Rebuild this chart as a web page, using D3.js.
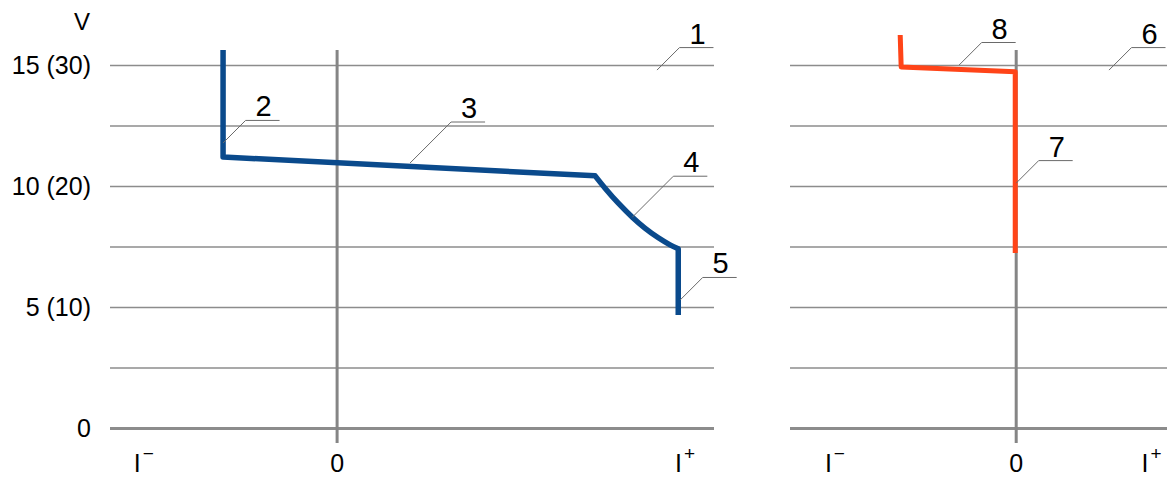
<!DOCTYPE html>
<html>
<head>
<meta charset="utf-8">
<script src="https://cdn.jsdelivr.net/npm/d3@7"></script>
<style>
  html, body { margin: 0; padding: 0; background: #fff; }
  svg { display: block; font-family: "Liberation Sans", Arial, sans-serif; }
</style>
</head>
<body>
<svg id="chart" width="1168" height="477"></svg>
<script>
// ---- data ----
const gridValues = [0, 2.5, 5, 7.5, 10, 12.5, 15];
const yTickValues = [0, 5, 10, 15];
const yTickLabels = ["0", "5 (10)", "10 (20)", "15 (30)"];
const yAxisTitle = "V";

// current-axis labels (value positions in arbitrary current units)
const leftXTickValues = [-4.0, 0, 7.2];
const leftXTickLabels = [["I", "\u2212"], ["0", ""], ["I", "+"]];
const rightXTickValues = [-3.75, 0, 2.8];
const rightXTickLabels = [["I", "\u2212"], ["0", ""], ["I", "+"]];

// curve in left panel (current, voltage); points 2..9 form the smooth bend (segment 4)
const curveLeftI = [-2.36, -2.36, 5.34, 5.55, 5.82, 6.11, 6.37, 6.64, 6.89, 7.06, 7.06];
const curveLeftV = [15.62, 11.2, 10.42, 9.90, 9.29, 8.71, 8.26, 7.87, 7.57, 7.41, 4.67];
const bendStart = 2, bendEnd = 9;

// curve in right panel
const curveRightI = [-2.40, -2.38, -0.02, -0.02];
const curveRightV = [16.24, 14.92, 14.72, 7.23];

// annotation labels: panel, text, anchor current, anchor voltage
const annPanel = ["L", "L", "L", "L", "L", "R", "R", "R"];
const annText  = ["1", "2", "3", "4", "5", "6", "7", "8"];
const annI     = [6.62, -2.36, 1.51, 6.11, 7.10, 1.92, 0.0, -1.18];
const annV     = [14.79, 11.78, 10.95, 8.71, 5.29, 14.79, 10.12, 15.0];
const annLong  = [false, false, true, true, false, false, false, false];

// ---- layout ----
const svg = d3.select("#chart");
const y = d3.scaleLinear().domain([0, 15]).range([428, 65]);
const xL = d3.scaleLinear().domain([-4.7, 7.8]).range([110, 714]);
const xR = d3.scaleLinear().domain([-4.68, 3.12]).range([790, 1167]);

const gridColor = "#8c8c8c";
const axisColor = "#858585";

function drawPanel(x, tickVals, tickLabels) {
  const [x0, x1] = x.range();
  const g = svg.append("g");
  const gridAxis = d3.axisLeft(y).tickValues(gridValues).tickSize(-(x1 - x0)).tickFormat("");
  const ga = g.append("g").attr("transform", `translate(${x0},0)`).call(gridAxis);
  ga.select(".domain").remove();
  ga.selectAll(".tick line")
    .attr("stroke", gridColor)
    .attr("stroke-width", d => d === 0 ? 3 : 1.6);
  g.append("line")
    .attr("x1", x(0)).attr("x2", x(0))
    .attr("y1", 50).attr("y2", 443)
    .attr("stroke", axisColor).attr("stroke-width", 3);
  tickVals.forEach((v, i) => {
    const t = g.append("text")
      .attr("x", x(v)).attr("y", 472)
      .attr("text-anchor", "middle")
      .attr("font-size", 25).attr("fill", "#000");
    t.append("tspan").text(tickLabels[i][0]);
    if (tickLabels[i][1]) {
      t.append("tspan").attr("dx", 2).attr("dy", -12).attr("font-size", 19).text(tickLabels[i][1]);
    }
  });
}

drawPanel(xL, leftXTickValues, leftXTickLabels);
drawPanel(xR, rightXTickValues, rightXTickLabels);

yTickValues.forEach((v, i) => {
  svg.append("text")
    .attr("x", 91).attr("y", y(v))
    .attr("dy", "0.36em")
    .attr("text-anchor", "end")
    .attr("font-size", 25).attr("fill", "#000")
    .text(yTickLabels[i]);
});
svg.append("text")
  .attr("x", 82).attr("y", 30)
  .attr("text-anchor", "middle")
  .attr("font-size", 24).attr("fill", "#000")
  .text(yAxisTitle);

const leftPts = curveLeftI.map((c, i) => [c, curveLeftV[i]]);
const rightPts = curveRightI.map((c, i) => [c, curveRightV[i]]);

const lineL = d3.line().x(d => xL(d[0])).y(d => y(d[1]));
const p1 = lineL.curve(d3.curveLinear)(leftPts.slice(0, bendStart + 1));
const p2 = lineL.curve(d3.curveCatmullRom.alpha(0.5))(leftPts.slice(bendStart, bendEnd + 1));
const p3 = lineL.curve(d3.curveLinear)(leftPts.slice(bendEnd));
const dLeft = p1 + p2.replace(/^M/, "L") + p3.replace(/^M/, "L");

svg.append("path")
  .attr("d", dLeft)
  .attr("fill", "none").attr("stroke", "#0a4a8c").attr("stroke-width", 5.5)
  .attr("stroke-linejoin", "round");

svg.append("path")
  .attr("d", d3.line().x(d => xR(d[0])).y(d => y(d[1])).curve(d3.curveLinear)(rightPts))
  .attr("fill", "none").attr("stroke", "#ff4418").attr("stroke-width", 5)
  .attr("stroke-linejoin", "round");

annText.forEach((t, i) => {
  const x = annPanel[i] === "L" ? xL : xR;
  const ax = x(annI[i]), ay = y(annV[i]);
  const d = annLong[i] ? 41 : 22.5;
  const ex = ax + d, ey = ay - d;
  svg.append("path")
    .attr("d", `M${ax},${ay}L${ex},${ey}L${ex + 34},${ey}`)
    .attr("fill", "none").attr("stroke", "#6a6a6a").attr("stroke-width", 1);
  svg.append("text")
    .attr("x", ex + 18).attr("y", ey - 4)
    .attr("text-anchor", "middle")
    .attr("font-size", 29).attr("fill", "#000")
    .text(t);
});
</script>
</body>
</html>
